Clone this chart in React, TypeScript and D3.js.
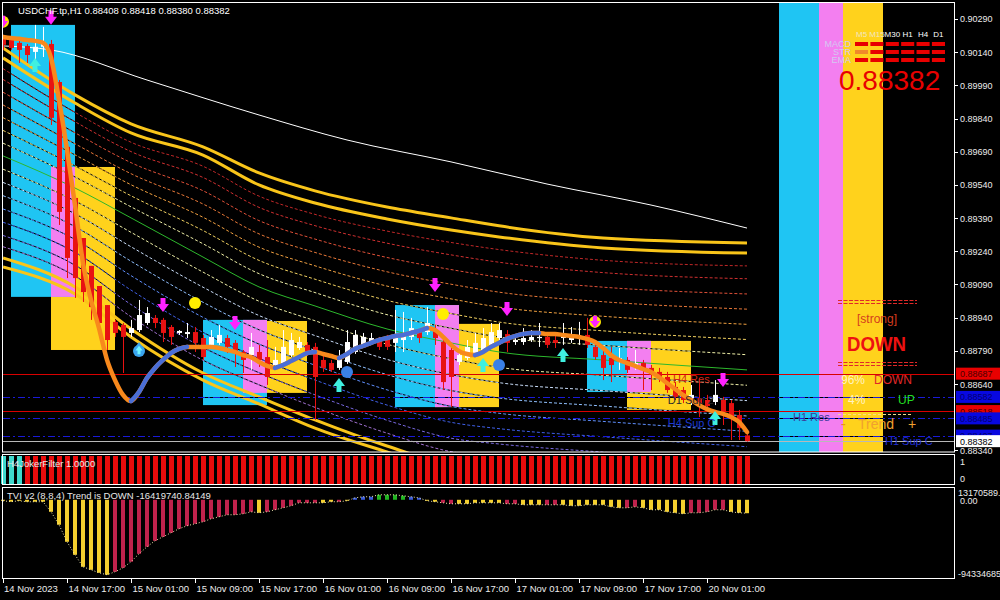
import React from "react";
import * as d3 from "d3";

const FONT = "'Liberation Sans', Arial, sans-serif";

// H1 bars, index 0 = 14 Nov 09:00
const opens = [
  0.90204, 0.90195, 0.90182, 0.90168, 0.90141, 0.90164, 0.90177, 0.90005, 0.89712, 0.89481,
  0.893, 0.89174, 0.89083, 0.88997, 0.88921, 0.88907, 0.88871, 0.88884, 0.88916, 0.88939,
  0.8893, 0.88898, 0.88871, 0.88866, 0.88875, 0.88848, 0.88817, 0.88826, 0.88848, 0.88826,
  0.88785, 0.88771, 0.88785, 0.88762, 0.88726, 0.88735, 0.88771, 0.88803, 0.88817, 0.88808,
  0.88749, 0.88735, 0.88713, 0.8874, 0.88785, 0.88817, 0.8883, 0.88839, 0.88853, 0.88826,
  0.88839, 0.88853, 0.88875, 0.88875, 0.88884, 0.8883, 0.88794, 0.8874, 0.88758, 0.8878,
  0.88785, 0.88817, 0.88848, 0.88866, 0.8883, 0.8883, 0.88839, 0.88848, 0.88853, 0.88839,
  0.88848, 0.88839, 0.88853, 0.88862, 0.88808, 0.88771, 0.88758, 0.88744, 0.88749, 0.88726,
  0.88735, 0.88713, 0.88695, 0.88672, 0.88627, 0.88613, 0.88559, 0.88577, 0.88568, 0.88559,
  0.88568, 0.88554, 0.885, 0.88408,
];
const highs = [
  0.90218, 0.90204, 0.90191, 0.90177, 0.90263, 0.90254, 0.90195, 0.90014, 0.89712, 0.89481,
  0.893, 0.89174, 0.89083, 0.88997, 0.8893, 0.88916, 0.8893, 0.8902, 0.88988, 0.88952,
  0.88939, 0.88907, 0.88884, 0.88916, 0.88898, 0.88862, 0.88884, 0.88907, 0.88862, 0.88839,
  0.88794, 0.88871, 0.88817, 0.88839, 0.88808, 0.88884, 0.88871, 0.88853, 0.8883, 0.88826,
  0.88785, 0.88749, 0.88794, 0.88884, 0.88884, 0.88871, 0.88871, 0.88853, 0.88862, 0.88975,
  0.88966, 0.88939, 0.88884, 0.88988, 0.88907, 0.88862, 0.88817, 0.88785, 0.88839, 0.88871,
  0.88893, 0.88916, 0.88916, 0.88884, 0.88853, 0.88893, 0.88884, 0.88916, 0.88871, 0.88862,
  0.88916, 0.88898, 0.88921, 0.88939, 0.88826, 0.88794, 0.88808, 0.88803, 0.88762, 0.88794,
  0.88749, 0.88726, 0.88713, 0.88695, 0.88649, 0.88627, 0.88636, 0.88667, 0.88591, 0.88658,
  0.88582, 0.88568, 0.88523, 0.88418,
];
const lows = [
  0.9015, 0.9015, 0.90091, 0.90091, 0.90091, 0.90118, 0.89811, 0.89359, 0.89119, 0.89029,
  0.89011, 0.8893, 0.88907, 0.88794, 0.88853, 0.8869, 0.88853, 0.88875, 0.88907, 0.88893,
  0.8883, 0.88817, 0.88862, 0.88848, 0.88785, 0.88749, 0.88808, 0.88817, 0.8878, 0.88717,
  0.8869, 0.88704, 0.88717, 0.88636, 0.88717, 0.88726, 0.88762, 0.88794, 0.88767, 0.88478,
  0.88695, 0.88695, 0.88704, 0.88731, 0.88776, 0.88808, 0.88817, 0.88794, 0.88794, 0.88785,
  0.88785, 0.88839, 0.88826, 0.88862, 0.88817, 0.88613, 0.88536, 0.88726, 0.88749, 0.88771,
  0.8878, 0.88808, 0.88839, 0.88785, 0.88817, 0.88817, 0.8883, 0.88808, 0.88803, 0.88803,
  0.88817, 0.88826, 0.88817, 0.88803, 0.88749, 0.88658, 0.88649, 0.88704, 0.8869, 0.88704,
  0.88613, 0.88613, 0.88649, 0.886, 0.88568, 0.88554, 0.88545, 0.88491, 0.88523, 0.88545,
  0.88455, 0.88387, 0.88387, 0.8838,
];
const closes = [
  0.90173, 0.90159, 0.9015, 0.90127, 0.90164, 0.90186, 0.89843, 0.89418, 0.8921, 0.89119,
  0.89056, 0.88988, 0.88916, 0.88839, 0.88871, 0.88853, 0.88893, 0.88952, 0.88961, 0.88916,
  0.88871, 0.88853, 0.8888, 0.88875, 0.88826, 0.88762, 0.88853, 0.88862, 0.88808, 0.8878,
  0.88749, 0.88808, 0.88749, 0.88672, 0.88749, 0.88808, 0.88839, 0.8883, 0.8878, 0.88672,
  0.88713, 0.88704, 0.88758, 0.8883, 0.88862, 0.88853, 0.88848, 0.88808, 0.88808, 0.88853,
  0.88862, 0.88893, 0.88848, 0.88916, 0.88848, 0.88649, 0.88672, 0.88771, 0.88808, 0.88826,
  0.88848, 0.88875, 0.88884, 0.88826, 0.88839, 0.88848, 0.88853, 0.88853, 0.88817, 0.88826,
  0.88862, 0.88853, 0.88857, 0.88817, 0.88762, 0.88713, 0.88726, 0.88758, 0.88704, 0.88735,
  0.88704, 0.88681, 0.88667, 0.88613, 0.88582, 0.88568, 0.88591, 0.88545, 0.88541, 0.88591,
  0.88514, 0.88487, 0.88441, 0.88382,
];

// smoothed trend line: orange when falling, blue on the rising stretches
const trendLine = [
  0.90209, 0.90204, 0.902, 0.90195, 0.90191, 0.90182, 0.90114, 0.89924, 0.89698, 0.89449,
  0.89187, 0.8902, 0.88893, 0.88749, 0.88658, 0.88591, 0.88563, 0.88604, 0.88667, 0.88713,
  0.88749, 0.8878, 0.88799, 0.88808, 0.88808, 0.88808, 0.88808, 0.88803, 0.88794, 0.88785,
  0.88771, 0.88762, 0.8874, 0.88722, 0.88713, 0.88726, 0.88744, 0.88762, 0.8878, 0.88785,
  0.88776, 0.88767, 0.88758, 0.88776, 0.88799, 0.88812, 0.88826, 0.88839, 0.88848, 0.88857,
  0.88862, 0.88871, 0.8888, 0.88893, 0.88884, 0.88853, 0.88817, 0.88789, 0.88776, 0.88771,
  0.88785, 0.88808, 0.88826, 0.88844, 0.88857, 0.88866, 0.88871, 0.88871, 0.88866, 0.88866,
  0.88862, 0.88857, 0.88853, 0.88844, 0.8883, 0.88803, 0.88771, 0.88749, 0.88735, 0.88722,
  0.88708, 0.88695, 0.88672, 0.88645, 0.88618, 0.88591, 0.88568, 0.88545, 0.88527, 0.88514,
  0.88505, 0.88491, 0.88469, 0.88423,
];
const trendUpRanges: [number, number][] = [[16, 23], [34, 39], [42, 53], [59, 67]];

// moving averages and envelope, read at knot bars
const envKnots = [0, 9, 16, 25, 32, 39, 48, 56, 62, 75, 93];
const greenMA = [0.89671, 0.89526, 0.89391, 0.89214, 0.89079, 0.88993, 0.88889, 0.88826, 0.88785, 0.88749, 0.88704];
const upperOuter = [0.90159, 0.89947, 0.89816, 0.89712, 0.89594, 0.89513, 0.8944, 0.89391, 0.89355, 0.893, 0.89278];
const upperInner = [0.90114, 0.8991, 0.89775, 0.89675, 0.8954, 0.89458, 0.89386, 0.89336, 0.89305, 0.89255, 0.89232];
const lowerInner = [0.8921, 0.89079, 0.88889, 0.8869, 0.88582, 0.88478, 0.8836, 0.88274, 0.88252, 0.88215, 0.8817];
const lowerOuter = [0.89169, 0.89047, 0.88853, 0.88658, 0.8855, 0.88441, 0.88333, 0.88243, 0.88206, 0.88179, 0.88134];
const whiteKnots = [0, 6, 18, 32, 43, 56, 68, 81, 93];
const whiteMA = [0.90168, 0.9015, 0.90014, 0.89856, 0.89743, 0.89644, 0.89544, 0.89449, 0.89345];

const bandFracs = [0.13, 0.26, 0.39, 0.52, 0.65, 0.78, 0.89];
const upperBandColors = ["#f0f0a8", "#f0d060", "#f0a040", "#e87838", "#e05038", "#d03030", "#c02828"];
const lowerBandColors = ["#f0f0a8", "#c8dcf8", "#90c0ff", "#6090ff", "#4060e8", "#7868e0", "#a070d0"];

// coloured boxes: [fromBar, toBar, top, bottom]
const cyanBoxes = [[1, 9, 0.90263, 0.89034], [25, 33, 0.8893, 0.88545], [49, 57, 0.88997, 0.88536], [73, 81, 0.88835, 0.88604], [97, 102, 0.9037, 0.8833]];
const yellowBoxes = [[6, 14, 0.89621, 0.88794], [30, 38, 0.88925, 0.886], [54, 62, 0.88912, 0.88536], [78, 86, 0.88835, 0.88523], [105, 110, 0.9037, 0.8833]];
const pinkBoxes = [[6, 9, 0.89621, 0.89034], [30, 33, 0.8893, 0.886], [54, 57, 0.88997, 0.88536], [78, 81, 0.88835, 0.88604], [102, 105, 0.9037, 0.8833]];

// signal markers
const markerBars = [0, 6, 4, 17, 20, 24, 29, 42, 43, 54, 55, 60, 62, 63, 70, 74, 89, 90];
const markerPrices = [0.90277, 0.90295, 0.90082, 0.88794, 0.88997, 0.89006, 0.88916, 0.88636, 0.88695, 0.89088, 0.88957, 0.88726, 0.88726, 0.88979, 0.88771, 0.88921, 0.88487, 0.88658];
const markerKinds = ["yellowDown", "down", "up", "drop", "down", "yellow", "down", "up", "blue", "down", "yellow", "up", "blue", "down", "up", "yellowDown", "up", "down"];

// support / resistance levels
const levelPrices = [0.88687, 0.88582, 0.88518, 0.88485, 0.88407, 0.88382];
const levelKinds = ["res", "sup", "res", "sup", "sup", "bid"];

const chartLabels = ["H4 Res", "D1 Sup 2", "H4 Sup C", "H1 Res", "H1 Sup C"];
const chartLabelBars = [83.75, 83.1, 83.1, 98.75, 110.25];
const chartLabelPrices = [0.88645, 0.8855, 0.88446, 0.88473, 0.88365];
const chartLabelColors = ["#d02818", "#2a2a2a", "#1c3ad0", "#3c3c9c", "#2030d8"];

const priceTicks = [0.9029, 0.9014, 0.8999, 0.8984, 0.8969, 0.8954, 0.8939, 0.8924, 0.8909, 0.8894, 0.8879, 0.8864, 0.8834];
const timeLabelBars = [0, 8, 16, 24, 32, 40, 48, 56, 64, 72, 80, 88];
const timeLabels = ["14 Nov 2023", "14 Nov 17:00", "15 Nov 01:00", "15 Nov 09:00", "15 Nov 17:00", "16 Nov 01:00", "16 Nov 09:00", "16 Nov 17:00", "17 Nov 01:00", "17 Nov 09:00", "17 Nov 17:00", "20 Nov 01:00"];

// H4 joker filter: runs of state
const jokerRuns: [number, number, string][] = [[0, 2, "up"], [3, 93, "down"]];

// TVI histogram, millions
const tviValues = [
  -1.2, -2.4, -1.2, -2.4, -2.4, -2.4, -14.7, -30.5, -51.3, -67.2,
  -81.9, -85.5, -89.2, -91.6, -88.0, -83.1, -75.7, -66.0, -57.4, -50.1,
  -45.2, -40.3, -35.4, -31.8, -29.3, -26.9, -23.2, -20.8, -18.3, -18.3,
  -17.1, -14.7, -15.9, -14.7, -12.2, -9.8, -7.3, -3.7, -3.7, -3.7,
  -3.7, -2.4, -2.4, -1.2, 2.4, 3.7, 3.7, 6.1, 6.1, 6.1,
  4.9, 3.7, 2.4, -1.2, -2.4, -3.7, -4.9, -4.9, -4.9, -3.7,
  -3.7, -3.7, -3.7, -4.9, -4.9, -6.1, -6.1, -6.1, -6.1, -6.1,
  -6.1, -7.3, -7.3, -6.1, -6.1, -6.1, -8.6, -9.8, -9.8, -8.6,
  -9.8, -12.2, -12.2, -14.7, -15.9, -17.1, -15.9, -15.9, -14.7, -12.2,
  -12.2, -14.7, -15.9, -16.4,
];
const tviColorRuns: [number, number, string][] = [
  [0, 13, "y"], [14, 31, "r"], [32, 32, "y"], [33, 39, "r"], [40, 41, "y"], [42, 42, "r"], [43, 43, "y"],
  [44, 46, "b"], [47, 50, "g"], [51, 52, "b"], [53, 54, "y"], [55, 56, "r"], [57, 62, "y"], [63, 64, "r"],
  [65, 67, "y"], [68, 69, "r"], [70, 77, "y"], [78, 79, "r"], [80, 85, "y"], [86, 90, "r"], [91, 93, "y"],
];

const tableRows = ["MACD", "STR", "EMA"];
const tableCols = ["M5", "M15", "M30", "H1", "H4", "D1"];
const tableStates = [
  [-1, -1, -1, -1, -1, -1],
  [0, -1, -1, -1, -1, -1],
  [-1, -1, -1, -1, -1, -1],
];

const runColor = (runs: [number, number, string][], i: number) => {
  const r = runs.find(r => i >= r[0] && i <= r[1]);
  return r ? r[2] : "";
};

function Marker({ cx, cy, kind }: { cx: number; cy: number; kind: string }) {
  const down = `M${cx - 2.5},${cy - 7} h5 v6 h3.5 L${cx},${cy + 7} L${cx - 6},${cy - 1} h3.5 Z`;
  const up = `M${cx - 2.5},${cy + 7} h5 v-6 h3.5 L${cx},${cy - 7} L${cx - 6},${cy + 1} h3.5 Z`;
  if (kind === "down") return <path d={down} fill="#ff22ff" />;
  if (kind === "up") return <path d={up} fill="#3ff0e0" />;
  if (kind === "yellow") return <circle cx={cx} cy={cy} r={6} fill="#ffee00" />;
  if (kind === "blue") return <circle cx={cx} cy={cy} r={6} fill="#3a80e6" />;
  if (kind === "drop")
    return (
      <g>
        <circle cx={cx} cy={cy + 1} r={6} fill="#3aa4ee" />
        <path d={`M${cx},${cy - 8} L${cx + 5},${cy - 1} L${cx - 5},${cy - 1} Z`} fill="#3aa4ee" />
        <path d={up} fill="#6ff4ff" transform={`translate(${cx},${cy}) scale(0.6) translate(${-cx},${-cy})`} />
      </g>
    );
  return (
    <g>
      <circle cx={cx} cy={cy} r={6} fill="#ffe600" />
      <path d={down} fill="#ff22ff" transform={`translate(${cx},${cy}) scale(0.85) translate(${-cx},${-cy})`} />
    </g>
  );
}

export default function App() {
  const x = d3.scaleLinear().domain([0, 118.75]).range([3, 953]);
  const y = d3.scaleLinear().domain([0.88333, 0.90362]).range([452, 3]);
  const yTvi = d3.scaleLinear().domain([-94.334685, 13.170589]).range([577, 489]);
  const colX = d3.scaleBand<string>().domain(tableCols).range([855, 945]).paddingInner(0.15);
  const rowY = d3.scaleBand<string>().domain(tableRows).range([40, 64]);

  const bars = d3.range(opens.length);
  const curve = d3.line<[number, number]>().x(d => x(d[0])).y(d => y(d[1])).curve(d3.curveMonotoneX);
  const knotPts = (vals: number[]) => envKnots.map((k, j) => [k, vals[j]] as [number, number]);
  const bandPts = (frac: number, edge: number[]) =>
    envKnots.map((k, j) => [k, greenMA[j] + frac * (edge[j] - greenMA[j])] as [number, number]);
  const trendPts = trendLine.map((v, i) => [i, v] as [number, number]);
  const tviLine = d3.line<number>().x((_, i) => x(i)).y(v => yTvi(v));

  const boxRects = (list: number[][], color: string) =>
    list.map((b, k) => (
      <rect key={color + k} x={x(b[0])} y={y(b[2])} width={x(b[1]) - x(b[0])} height={y(b[3]) - y(b[2])} fill={color} />
    ));

  const tviFill: Record<string, string> = { y: "#f4cf2e", r: "#c0224c", b: "#3a5ad8", g: "#22b422" };
  const levelColor: Record<string, string> = { res: "#d80000", sup: "#1a1ad8", bid: "#b8b8b8" };
  const labelBg: Record<string, string> = { res: "#e80000", sup: "#0808e0", bid: "#ffffff" };
  const labelFg: Record<string, string> = { res: "#4a0000", sup: "#000070", bid: "#000000" };

  return (
    <svg width={1000} height={600} style={{ position: "absolute", left: 0, top: 0 }} fontFamily={FONT}>
      <defs>
        <clipPath id="mainClip"><rect x={3} y={3} width={952} height={449} /></clipPath>
      </defs>
      <rect width={1000} height={600} fill="#000" />

      <g clipPath="url(#mainClip)">
        {boxRects(yellowBoxes, "#ffd21c")}
        {boxRects(cyanBoxes, "#1fc5f3")}
        {boxRects(pinkBoxes, "#f37ff0")}

        {/* envelope bands: opaque black gaps under coloured dashes */}
        {bandFracs.map((f, k) => (
          <g key={"ub" + k}>
            <path d={curve(bandPts(f, upperInner)) || ""} fill="none" stroke="#000" strokeWidth={1} />
            <path d={curve(bandPts(f, upperInner)) || ""} fill="none" stroke={upperBandColors[k]} strokeWidth={1} strokeDasharray="3 2" />
            <path d={curve(bandPts(f, lowerInner)) || ""} fill="none" stroke="#000" strokeWidth={1} />
            <path d={curve(bandPts(f, lowerInner)) || ""} fill="none" stroke={lowerBandColors[k]} strokeWidth={1} strokeDasharray="3 2" />
          </g>
        ))}
        {[upperOuter, upperInner, lowerInner, lowerOuter].map((vals, k) => (
          <path key={"yl" + k} d={curve(knotPts(vals)) || ""} fill="none" stroke="#f9c51a" strokeWidth={3} />
        ))}
        <path d={curve(knotPts(greenMA)) || ""} fill="none" stroke="#2db82d" strokeWidth={1} />
        <path d={curve(whiteKnots.map((k, j) => [k, whiteMA[j]] as [number, number])) || ""} fill="none" stroke="#ffffff" strokeWidth={1} />

        {/* levels */}
        {levelPrices.map((p, k) => {
          const kind = levelKinds[k];
          const yy = Math.round(y(p)) + 0.5;
          return (
            <g key={"lv" + k}>
              {kind === "sup" && <line x1={3} x2={955} y1={yy} y2={yy} stroke="#000" />}
              <line x1={3} x2={955} y1={yy} y2={yy} stroke={levelColor[kind]} strokeDasharray={kind === "sup" ? "7 3 2 3" : undefined} />
            </g>
          );
        })}

        {/* candles */}
        {bars.map(i => {
          const bull = closes[i] >= opens[i];
          const col = bull ? "#ffffff" : "#e81212";
          const cx = Math.round(x(i));
          const top = y(Math.max(opens[i], closes[i]));
          const bot = y(Math.min(opens[i], closes[i]));
          return (
            <g key={"c" + i}>
              <line x1={cx + 0.5} x2={cx + 0.5} y1={y(highs[i])} y2={y(lows[i])} stroke={col} />
              <rect x={cx - 2} y={top} width={5} height={Math.max(1.2, bot - top)} fill={col} />
            </g>
          );
        })}

        {/* smoothed trend */}
        <path d={curve(trendPts) || ""} fill="none" stroke="#f8891c" strokeWidth={4.5} strokeLinecap="round" />
        {trendUpRanges.map(([a, b], k) => (
          <path key={"tu" + k} d={curve(trendPts.slice(a, b + 1)) || ""} fill="none" stroke="#4a6ed6" strokeWidth={4.5} strokeLinecap="round" />
        ))}

        {markerBars.map((b, k) => (
          <Marker key={"m" + k} cx={x(b)} cy={y(markerPrices[k])} kind={markerKinds[k]} />
        ))}

        {chartLabels.map((t, k) => (
          <text key={"cl" + k} x={x(chartLabelBars[k])} y={y(chartLabelPrices[k])} fontSize={11} fill={chartLabelColors[k]}>{t}</text>
        ))}

        {/* dashboard on the right */}
        {tableCols.map((c, k) => (
          <text key={"h" + c} x={(colX(c) || 0) + colX.bandwidth() / 2} y={37} fontSize={8} textAnchor="middle" fill={k < 2 ? "#f2e6c0" : "#ffffff"}>{c}</text>
        ))}
        {tableRows.map((r, ri) => (
          <g key={"r" + r}>
            <text x={851} y={(rowY(r) || 0) + 7} fontSize={9} textAnchor="end" fill="#d4c8f0">{r}</text>
            {tableCols.map((c, ci) => (
              <rect key={c} x={colX(c)} y={(rowY(r) || 0) + 2} width={colX.bandwidth()} height={4} fill={tableStates[ri][ci] < 0 ? "#e80000" : "#f08a2a"} />
            ))}
          </g>
        ))}
        <text x={839} y={90} fontSize={28} fill="#e80000">0.88382</text>

        <line x1={838} x2={917} y1={300.5} y2={300.5} stroke="#e02828" strokeDasharray="4 1.5" />
        <line x1={838} x2={917} y1={303.5} y2={303.5} stroke="#e02828" strokeDasharray="4 1.5" />
        <text x={877} y={323} fontSize={12} textAnchor="middle" fill="#d43c1e">[strong]</text>
        <text x={847} y={351} fontSize={20} fontWeight="bold" textLength={59} lengthAdjust="spacingAndGlyphs" fill="#ee1111">DOWN</text>
        <line x1={838} x2={917} y1={362.5} y2={362.5} stroke="#e02828" strokeDasharray="4 1.5" />
        <line x1={838} x2={917} y1={365.5} y2={365.5} stroke="#e02828" strokeDasharray="4 1.5" />
        <text x={841} y={384} fontSize={12} fill="#fff2c4">96%</text>
        <text x={874} y={384} fontSize={12} fill="#e02828">DOWN</text>
        <text x={848} y={404} fontSize={12} fill="#fff2c4">4%</text>
        <text x={898} y={404} fontSize={12} fill="#22dd22">UP</text>
        <line x1={838} x2={912} y1={414.5} y2={414.5} stroke="#f4d890" strokeDasharray="3 2" />
        <text x={841} y={429} fontSize={14} fill="#e89020">-</text>
        <text x={858} y={429} fontSize={14} fill="#f0a030">Trend</text>
        <text x={908} y={429} fontSize={14} fill="#f0a030">+</text>
      </g>

      <text x={18} y={14} fontSize={9.5} fill="#ffffff">USDCHF.tp,H1  0.88408 0.88418 0.88380 0.88382</text>

      {/* joker filter window */}
      {bars.map(i => (
        <rect key={"j" + i} x={Math.round(x(i)) - 2} y={456} width={5} height={28} fill={runColor(jokerRuns, i) === "up" ? "#3fd8cc" : "#e80c0c"} />
      ))}
      <text x={7} y={467} fontSize={9.5} fill="#e8e8e8">H4JokerFilter 1.0000</text>

      {/* TVI window */}
      {bars.map(i => {
        const v = tviValues[i];
        const y0 = yTvi(0), y1 = yTvi(v);
        return (
          <rect key={"t" + i} x={Math.round(x(i)) - 2} y={Math.min(y0, y1)} width={4} height={Math.max(1, Math.abs(y1 - y0))} fill={tviFill[runColor(tviColorRuns, i)]} />
        );
      })}
      <path d={tviLine(tviValues) || ""} fill="none" stroke="#f2eab0" strokeWidth={1} strokeDasharray="1 2" />
      <text x={7} y={499} fontSize={9.5} fill="#e8e8e8">TVI v2 (8,8,4) Trend is DOWN -16419740.84149</text>

      {/* frames */}
      <rect x={2.5} y={2.5} width={952} height={449.5} fill="none" stroke="#ffffff" />
      <rect x={2.5} y={454.5} width={952} height={30} fill="none" stroke="#ffffff" />
      <rect x={2.5} y={487.5} width={952} height={91} fill="none" stroke="#ffffff" />

      {/* price axis */}
      {priceTicks.map(p => (
        <g key={"pt" + p}>
          <line x1={955} x2={958} y1={Math.round(y(p)) + 0.5} y2={Math.round(y(p)) + 0.5} stroke="#ffffff" />
          <text x={960} y={y(p) + 3.5} fontSize={9} fill="#ececec">{p.toFixed(5)}</text>
        </g>
      ))}
      {levelPrices.map((p, k) => (
        <g key={"lb" + k}>
          <rect x={956} y={y(p) - 6} width={44} height={12} fill={labelBg[levelKinds[k]]} />
          <text x={960} y={y(p) + 3.5} fontSize={9} fill={labelFg[levelKinds[k]]}>{p.toFixed(5)}</text>
        </g>
      ))}
      <text x={960} y={465} fontSize={9} fill="#ececec">1</text>
      <text x={960} y={482} fontSize={9} fill="#ececec">0</text>
      <text x={958} y={496} fontSize={9} fill="#ececec">13170589.</text>
      <text x={960} y={504} fontSize={9} fill="#ececec">0.00</text>
      <text x={958} y={577} fontSize={9} fill="#ececec">-94334685</text>

      {/* time axis */}
      {timeLabelBars.map((b, k) => (
        <g key={"tl" + k}>
          <line x1={Math.round(x(b)) + 0.5} x2={Math.round(x(b)) + 0.5} y1={579} y2={583} stroke="#ffffff" />
          <text x={x(b) + (k === 0 ? 1 : 1.5)} y={592} fontSize={9.5} fill="#ececec">{timeLabels[k]}</text>
        </g>
      ))}
    </svg>
  );
}
